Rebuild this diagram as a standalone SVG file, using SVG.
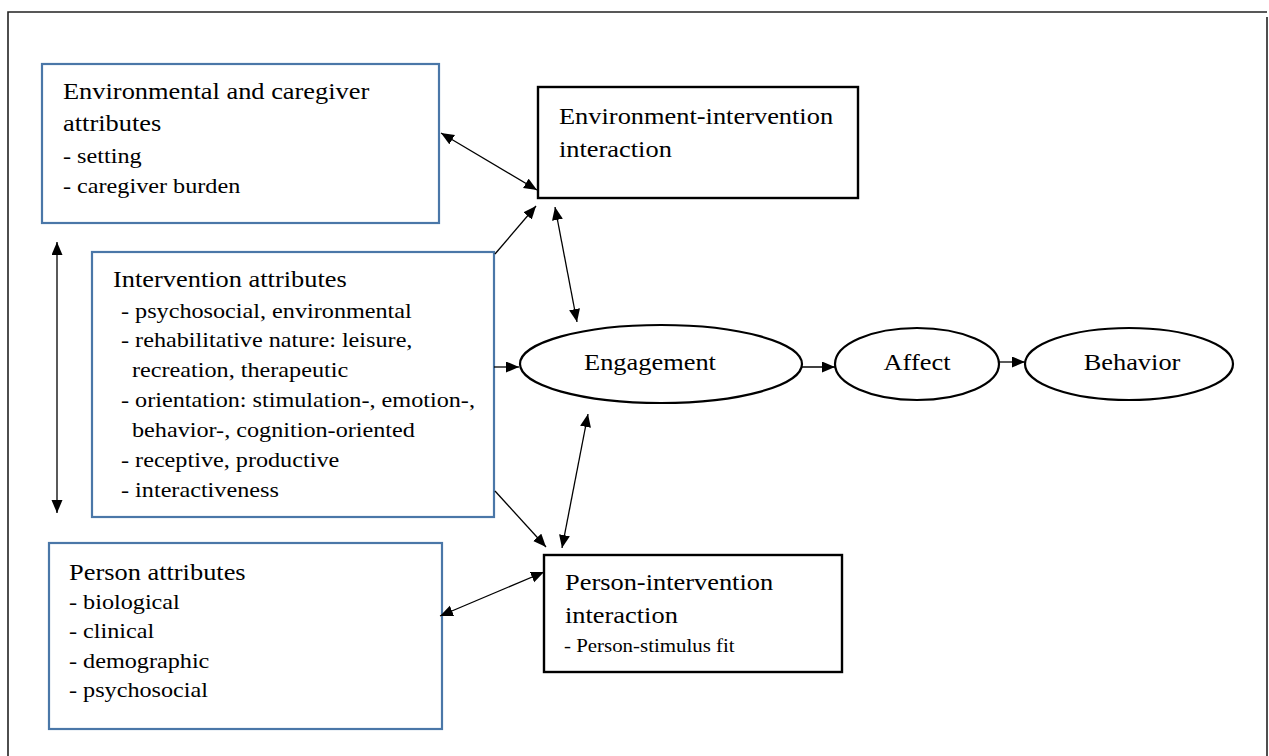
<svg xmlns="http://www.w3.org/2000/svg" width="1269" height="756" viewBox="0 0 1269 756">
<style>
.blue{fill:#fff;stroke:#4a77a8;stroke-width:2.2}
.blk{fill:#fff;stroke:#000;stroke-width:2.4}
.ell{fill:#fff;stroke:#000;stroke-width:2.2}
.h{font-family:"Liberation Serif","Times New Roman",serif;font-size:24px;fill:#000}
.s{font-family:"Liberation Serif","Times New Roman",serif;font-size:22px;fill:#000}
.xs{font-family:"Liberation Serif","Times New Roman",serif;font-size:19px;fill:#000}
.c{text-anchor:middle}
.con line{stroke:#000;stroke-width:1.3}
.frame{stroke:#222;stroke-width:1.6;fill:none}
</style>
<defs>
<marker id="ah" markerUnits="userSpaceOnUse" markerWidth="14" markerHeight="12" refX="13" refY="5.5" orient="auto-start-reverse" viewBox="0 0 14 12">
<path d="M0,0 L13,5.5 L0,11 Z" fill="#000"/>
</marker>
</defs>
<rect width="1269" height="756" fill="#fff"/>
<g id="frame">
<path class="frame" d="M8,756 V12 H1267"/>
<path class="frame" d="M1267,17 V756"/>
</g>
<g id="env-caregiver">
<rect class="blue" x="42" y="64" width="397" height="159"/>
<text class="h" transform="translate(63,99) scale(1.1,1)">Environmental and caregiver</text>
<text class="h" transform="translate(63,131) scale(1.1,1)">attributes</text>
<text class="s" transform="translate(63,163) scale(1.1,1)">- setting</text>
<text class="s" transform="translate(63,193) scale(1.1,1)">- caregiver burden</text>
</g>
<g id="env-intervention">
<rect class="blk" x="538" y="87" width="320" height="111"/>
<text class="h" transform="translate(559,124) scale(1.1,1)">Environment-intervention</text>
<text class="h" transform="translate(559,157) scale(1.1,1)">interaction</text>
</g>
<g id="intervention">
<rect class="blue" x="92" y="252" width="402" height="265"/>
<text class="h" transform="translate(113,287) scale(1.1,1)">Intervention attributes</text>
<text class="s" transform="translate(121,318) scale(1.1,1)">- psychosocial, environmental</text>
<text class="s" transform="translate(121,347) scale(1.1,1)">- rehabilitative nature: leisure,</text>
<text class="s" transform="translate(132,377) scale(1.1,1)">recreation, therapeutic</text>
<text class="s" transform="translate(121,407) scale(1.1,1)">- orientation: stimulation-, emotion-,</text>
<text class="s" transform="translate(132,437) scale(1.1,1)">behavior-, cognition-oriented</text>
<text class="s" transform="translate(121,467) scale(1.1,1)">- receptive, productive</text>
<text class="s" transform="translate(121,497) scale(1.1,1)">- interactiveness</text>
</g>
<g id="person">
<rect class="blue" x="49" y="543" width="393" height="186"/>
<text class="h" transform="translate(69,580) scale(1.1,1)">Person attributes</text>
<text class="s" transform="translate(69,609) scale(1.1,1)">- biological</text>
<text class="s" transform="translate(69,638) scale(1.1,1)">- clinical</text>
<text class="s" transform="translate(69,668) scale(1.1,1)">- demographic</text>
<text class="s" transform="translate(69,697) scale(1.1,1)">- psychosocial</text>
</g>
<g id="person-intervention">
<rect class="blk" x="544" y="555" width="298" height="117"/>
<text class="h" transform="translate(565,590) scale(1.1,1)">Person-intervention</text>
<text class="h" transform="translate(565,623) scale(1.1,1)">interaction</text>
<text class="xs" transform="translate(564,652) scale(1.1,1)">- Person-stimulus fit</text>
</g>
<g id="engagement">
<ellipse class="ell" cx="661" cy="364" rx="141" ry="39"/>
<text class="h c" transform="translate(650,370) scale(1.1,1)">Engagement</text>
</g>
<g id="affect">
<ellipse class="ell" cx="917" cy="364" rx="82" ry="36"/>
<text class="h c" transform="translate(917,370) scale(1.1,1)">Affect</text>
</g>
<g id="behavior">
<ellipse class="ell" cx="1129" cy="364" rx="104" ry="36"/>
<text class="h c" transform="translate(1132,370) scale(1.1,1)">Behavior</text>
</g>
<g id="connectors" class="con">
<line x1="441" y1="133" x2="537" y2="190" marker-start="url(#ah)" marker-end="url(#ah)"/>
<line x1="495" y1="254" x2="536" y2="206" marker-end="url(#ah)"/>
<line x1="555" y1="207" x2="577" y2="322" marker-start="url(#ah)" marker-end="url(#ah)"/>
<line x1="494" y1="367" x2="519" y2="367" marker-end="url(#ah)"/>
<line x1="802" y1="367" x2="835" y2="367" marker-end="url(#ah)"/>
<line x1="999" y1="362" x2="1025" y2="362" marker-end="url(#ah)"/>
<line x1="495" y1="491" x2="546" y2="547" marker-end="url(#ah)"/>
<line x1="588" y1="414" x2="562" y2="548" marker-start="url(#ah)" marker-end="url(#ah)"/>
<line x1="440" y1="616" x2="544" y2="572" marker-start="url(#ah)" marker-end="url(#ah)"/>
<line x1="57" y1="242" x2="57" y2="513" marker-start="url(#ah)" marker-end="url(#ah)"/>
</g>
</svg>
